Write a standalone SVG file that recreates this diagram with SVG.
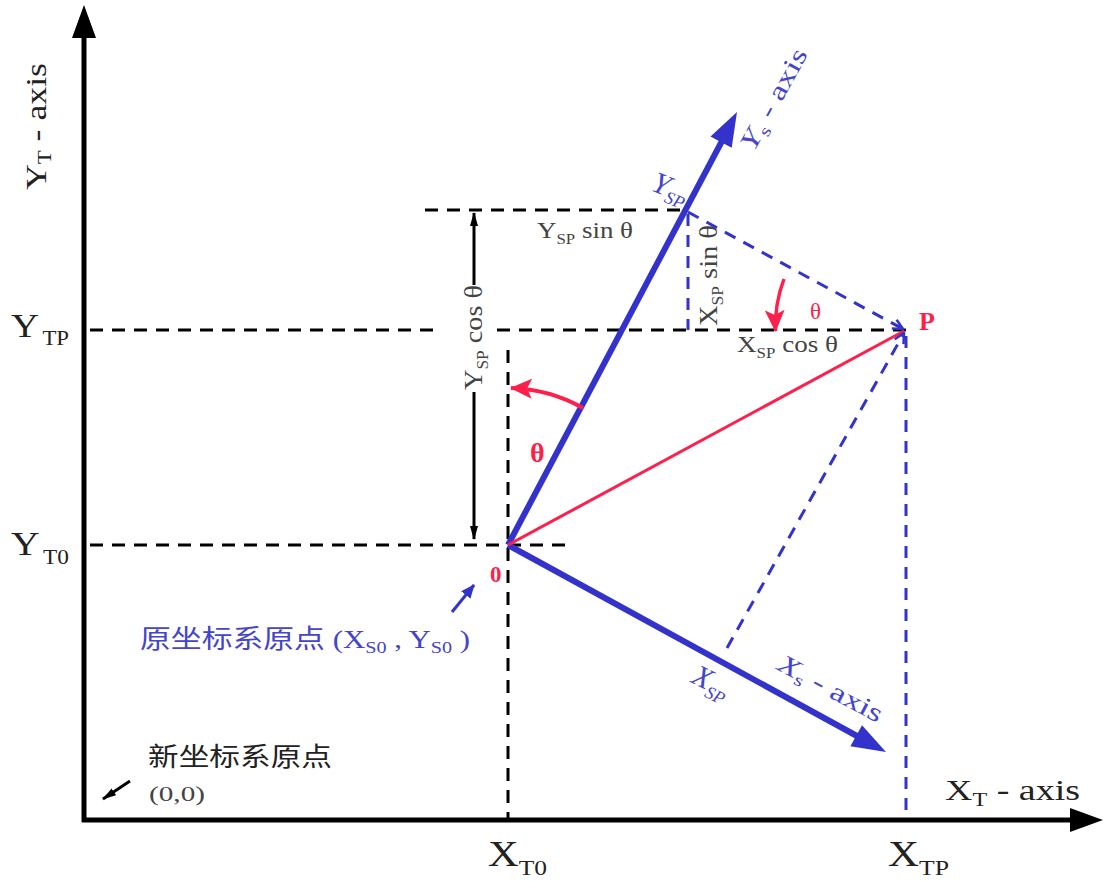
<svg xmlns="http://www.w3.org/2000/svg" width="1105" height="881" viewBox="0 0 1105 881">
<defs>
<style>
.lbl{font-family:"Liberation Serif","Times New Roman",serif;fill:#222}
.gry{font-family:"Liberation Serif","Times New Roman",serif;fill:#444}
.blu{font-family:"Liberation Serif","Times New Roman",serif;fill:#4444cc}
.red{font-family:"Liberation Serif","Times New Roman",serif;fill:#ff1f4b;font-weight:bold}
.redn{font-family:"Liberation Serif","Times New Roman",serif;fill:#ff1f4b;font-weight:normal}
.cjk{font-family:"Liberation Serif","Noto Sans CJK SC",serif}
.axis{stroke:#000;stroke-width:5;fill:none}
.bdash{stroke:#000;stroke-width:3;stroke-dasharray:13 9;fill:none}
.udash{stroke:#3333cc;stroke-width:3;stroke-dasharray:12 9;fill:none}
.uaxis{stroke:#3333cc;stroke-width:6;fill:none}
.redl{stroke:#ff1f4b;fill:none}
</style>
<marker id="uopen" viewBox="0 0 12 12" refX="11" refY="6" markerWidth="12" markerHeight="12" markerUnits="userSpaceOnUse" orient="auto">
<polyline points="1,1 11,6 1,11" fill="none" stroke="#3333cc" stroke-width="2.5"/>
</marker>
<marker id="blk" viewBox="0 0 14 10" refX="13" refY="5" markerWidth="14" markerHeight="10" markerUnits="userSpaceOnUse" orient="auto">
<path d="M0,1 L14,5 L0,9 Z" fill="#000"/>
</marker>
<marker id="blu" viewBox="0 0 14 12" refX="13" refY="6" markerWidth="14" markerHeight="12" markerUnits="userSpaceOnUse" orient="auto">
<path d="M0,0 L14,6 L0,12 Z" fill="#3333cc"/>
</marker>
<marker id="redh" viewBox="0 0 22 20" refX="21" refY="10" markerWidth="22" markerHeight="20" markerUnits="userSpaceOnUse" orient="auto">
<path d="M0,0 L22,10 L0,20 L5,10 Z" fill="#ff1f4b"/>
</marker>
</defs>
<rect width="1105" height="881" fill="#fff"/>

<g id="guides">
<line class="bdash" x1="425" y1="210" x2="685" y2="210"/>
<line class="bdash" x1="90" y1="330" x2="434" y2="330"/>
<line class="bdash" x1="497" y1="330" x2="906" y2="330"/>
<line class="bdash" x1="90" y1="545" x2="566" y2="545"/>
<line class="bdash" x1="508" y1="350" x2="508" y2="818"/>
<line class="udash" x1="688" y1="214" x2="688" y2="330"/>
<line class="udash" x1="906" y1="336" x2="906" y2="818"/>
</g>

<g id="axes">
<line class="axis" x1="84" y1="822" x2="84" y2="34"/>
<polygon points="84,5 72,38 96,38" fill="#000"/>
<line class="axis" x1="82" y1="820" x2="1074" y2="820"/>
<polygon points="1103,820 1070,808 1070,832" fill="#000"/>
</g>

<g id="connectors">
<line class="uaxis" x1="508" y1="545" x2="722" y2="141"/>
<polygon points="737,112 731.7,147.7 710.5,136.5" fill="#3333cc"/>
<line class="uaxis" x1="508" y1="545" x2="857" y2="736"/>
<polygon points="886,752 850.4,746.2 862.0,725.2" fill="#3333cc"/>
<line class="redl" stroke-width="3" x1="508" y1="545" x2="904" y2="331"/>
<line class="udash" x1="688" y1="212" x2="903" y2="329" marker-end="url(#uopen)"/>
<line class="udash" x1="727" y1="648" x2="904" y2="333" marker-end="url(#uopen)"/>
<line stroke="#000" stroke-width="3" x1="474" y1="285" x2="474" y2="213" marker-end="url(#blk)"/>
<line stroke="#000" stroke-width="3" x1="474" y1="392" x2="474" y2="539" marker-end="url(#blk)"/>
<path class="redl" stroke-width="4" d="M583,408 A157,157 0 0 0 511,388" marker-end="url(#redh)"/>
<path class="redl" stroke-width="3.5" d="M784,279 A132,132 0 0 0 775.5,331" marker-end="url(#redh)"/>
<line stroke="#3333cc" stroke-width="3" x1="452" y1="612" x2="474" y2="585" marker-end="url(#blu)"/>
<line stroke="#000" stroke-width="3" x1="130" y1="781" x2="103" y2="799" marker-end="url(#blk)"/>
</g>

<g id="axis-labels">
<text class="lbl" transform="translate(46,190) rotate(-90)" font-size="30" textLength="127" lengthAdjust="spacingAndGlyphs">Y<tspan font-size="19" dy="5">T</tspan><tspan dy="-5"> - axis</tspan></text>
<text class="lbl" x="11" y="337" font-size="34" textLength="58" lengthAdjust="spacingAndGlyphs">Y<tspan font-size="20" dx="3" dy="8">TP</tspan></text>
<text class="lbl" x="11" y="555" font-size="34" textLength="58" lengthAdjust="spacingAndGlyphs">Y<tspan font-size="20" dx="3" dy="9">T0</tspan></text>
<text class="lbl" x="488" y="866" font-size="35" textLength="59" lengthAdjust="spacingAndGlyphs">X<tspan font-size="21" dy="9">T0</tspan></text>
<text class="lbl" x="888" y="866" font-size="35" textLength="61" lengthAdjust="spacingAndGlyphs">X<tspan font-size="21" dy="9">TP</tspan></text>
<text class="lbl" x="945" y="800" font-size="30" textLength="135" lengthAdjust="spacingAndGlyphs">X<tspan font-size="19" dy="6">T</tspan><tspan dy="-6"> - axis</tspan></text>
</g>

<g id="new-origin">
<text class="lbl cjk" x="148" y="766" font-size="26" textLength="184" lengthAdjust="spacingAndGlyphs">新坐标系原点</text>
<text class="gry" x="149" y="801" font-size="22" fill="#555" textLength="56" lengthAdjust="spacingAndGlyphs">(0,0)</text>
</g>

<g id="old-origin">
<text class="blu cjk" x="140" y="648" font-size="26" textLength="330" lengthAdjust="spacingAndGlyphs">原坐标系原点 (X<tspan font-size="17" dy="5">S0</tspan><tspan dy="-5"> , Y</tspan><tspan font-size="17" dy="5">S0</tspan><tspan dy="-5">  )</tspan></text>
<text class="red" x="490" y="582" font-size="23">0</text>
</g>

<g id="projections">
<text class="gry" x="537" y="238" font-size="24" textLength="96" lengthAdjust="spacingAndGlyphs">Y<tspan font-size="15" dy="6">SP</tspan><tspan dy="-6"> sin  θ</tspan></text>
<text class="gry" transform="translate(482,390) rotate(-90)" font-size="26" textLength="105" lengthAdjust="spacingAndGlyphs">Y<tspan font-size="16" dy="6">SP</tspan><tspan dy="-6"> cos θ</tspan></text>
<text class="gry" transform="translate(717,326) rotate(-90)" font-size="26" textLength="101" lengthAdjust="spacingAndGlyphs">X<tspan font-size="16" dy="6">SP</tspan><tspan dy="-6"> sin θ</tspan></text>
<text class="gry" x="737" y="352" font-size="24" textLength="101" lengthAdjust="spacingAndGlyphs">X<tspan font-size="15" dy="6">SP</tspan><tspan dy="-6"> cos θ</tspan></text>
</g>

<g id="rotated-axes-labels">
<text class="blu" transform="translate(650,190) rotate(22)" font-size="30" font-style="italic">Y<tspan font-size="18" dy="6">SP</tspan></text>
<text class="blu" transform="translate(754,152) rotate(-61)" font-size="26" textLength="112" lengthAdjust="spacingAndGlyphs"><tspan font-style="italic">Y</tspan><tspan font-size="17" dy="5">s</tspan><tspan dy="-5"> - axis</tspan></text>
<text class="blu" transform="translate(690,682) rotate(26)" font-size="30" font-style="italic">X<tspan font-size="18" dy="7">SP</tspan></text>
<text class="blu" transform="translate(776,669) rotate(28)" font-size="26" textLength="115" lengthAdjust="spacingAndGlyphs"><tspan font-style="italic">X</tspan><tspan font-size="17" dy="5">s</tspan><tspan dy="-5"> - axis</tspan></text>
</g>

<g id="angles">
<text class="red" x="530" y="462" font-size="28">θ</text>
<text class="redn" x="810" y="319" font-size="23">θ</text>
<text class="red" x="919" y="330" font-size="26">P</text>
</g>
</svg>
